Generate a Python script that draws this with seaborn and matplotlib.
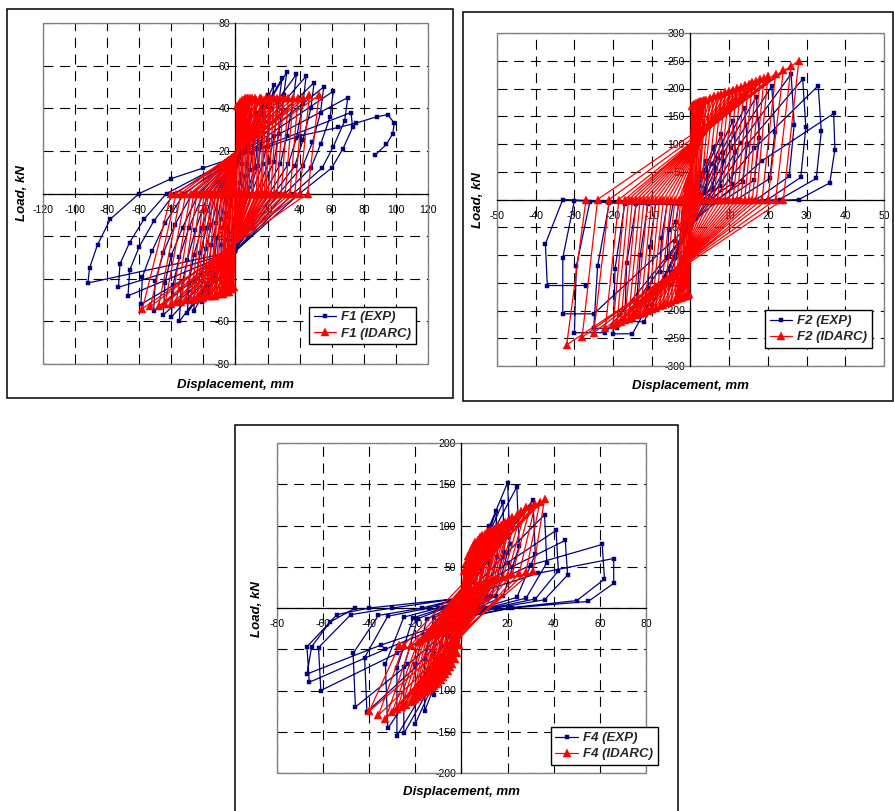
import numpy as np
import pandas as pd
import matplotlib
matplotlib.use("Agg")
import matplotlib.pyplot as plt
import seaborn as sns
from matplotlib.patches import Rectangle
from matplotlib.font_manager import FontProperties

# ---------------- DATA ----------------
# Panel F1 - experiment (cycle key points)
f1_exp_pinch_p = [10, 12, 13, 14, 15, 15, 16, 16, 16, 17, 17, 17, 17, 17, 17]
f1_exp_pos_d = [5, 9, 13, 17, 20, 24, 29, 32, 38, 44, 49, 55, 61, 70, 72]
f1_exp_pos_f = [20, 30, 38, 43, 46, 51, 54, 57, 56, 55, 52, 50, 48, 45, 38]
f1_exp_k1p_d = [4, 8, 12, 15, 18, 22, 27, 30, 36, 42, 47, 53, 59, 68, 73]
f1_exp_k1p_f = [14, 22, 29, 33, 36, 40, 43, 46, 44, 42, 40, 38, 36, 34, 31]
f1_exp_kmp_d = [3.5, 7, 10.5, 13.5, 16, 20, 24, 27, 32, 38, 42, 48, 53, 61, 67]
f1_exp_kmp_f = [9, 14, 19, 21, 23, 25, 27, 28, 27, 26, 25, 24, 23, 22, 21]
f1_exp_k2p_d = [3, 6, 9, 12, 14, 17, 21, 24, 28, 33, 37, 42, 47, 54, 60]
f1_exp_k2p_f = [5, 8, 11, 12, 13, 14, 15, 15, 14, 14, 13, 13, 12, 12, 12]
f1_exp_zero_p = [1, 3, 5, 7, 8, 10, 13, 15, 18, 21, 24, 27, 31, 36, 40]
f1_exp_pinch_n = [-12, -16, -19, -21, -22, -23, -24, -25, -25, -26, -26, -26, -27, -27, -27]
f1_exp_neg_d = [-5, -9, -13, -17, -21, -26, -30, -35, -40, -45, -51, -59, -67, -73, -92]
f1_exp_neg_f = [-22, -33, -41, -47, -51, -55, -56, -60, -58, -57, -55, -52, -48, -44, -42]
f1_exp_k1n_d = [-5, -9, -13, -17, -21, -25, -29, -34, -39, -44, -50, -58, -66, -72, -91]
f1_exp_k1n_f = [-16, -24, -30, -35, -38, -41, -42, -45, -43, -42, -41, -39, -36, -33, -35]
f1_exp_kmn_d = [-4, -8, -11.5, -15, -18.5, -22, -26, -30, -35, -40, -45, -52, -60, -66, -86]
f1_exp_kmn_f = [-11, -16, -21, -24, -26, -28, -29, -31, -30, -29, -28, -27, -25, -23, -24]
f1_exp_k2n_d = [-3, -6, -9, -12, -15, -18, -21, -25, -29, -33, -38, -44, -51, -57, -78]
f1_exp_k2n_f = [-6, -9, -12, -14, -15, -16, -16, -17, -16, -16, -15, -14, -13, -12, -12]
f1_exp_zero_n = [-2, -4, -6, -8, -10, -12, -14, -17, -20, -23, -27, -32, -38, -43, -60]
f1_exp_tail_d = [-40, -20, 0, 20, 40, 64, 75, 88, 95, 99, 98, 94, 87]
f1_exp_tail_f = [7, 12, 17, 22, 27, 31, 33, 36, 37, 33, 28, 23, 18]

# Panel F1 - IDARC
f1_idarc_pos_d = [1, 2, 3, 4, 5, 6, 7, 8, 9, 10, 12, 13, 15, 16, 18, 19, 21, 22, 24, 26,
                  28, 30, 33, 36, 39, 42, 46, 52]
f1_idarc_pos_f = [41, 42, 43, 44, 44, 45, 45, 45, 45, 45, 45, 44, 45, 45, 44, 45, 45, 45, 45, 45,
                  45, 45, 45, 45, 45, 45, 46, 46]
f1_idarc_zero_p = [0.5, 1.5, 2.5, 3.5, 4, 5, 6, 7, 7.5, 8.5, 10, 11, 13, 14, 15.5, 16.5, 18, 19,
                   20.5, 22, 24, 26, 28.5, 31, 34, 37, 40, 45]
f1_idarc_neg_d = [-1, -2, -3, -4, -5, -6, -7, -8, -9, -10, -12, -13, -15, -16, -18, -20, -22, -24,
                  -26, -28, -31, -34, -37, -40, -44, -48, -53, -58]
f1_idarc_neg_f = [-44, -45, -45, -46, -46, -46, -46, -47, -47, -47, -47, -48, -48, -48, -48, -49,
                  -49, -49, -50, -50, -50, -51, -51, -52, -52, -53, -53, -54]
f1_idarc_zero_n = [-0.5, -1.5, -2, -3, -3.5, -4, -5, -5.5, -6, -7, -8, -9, -10.5, -11, -12.5,
                   -14, -15, -17, -18, -19.5, -21.5, -24, -26, -28, -31, -34, -37, -40]

# Panel F2 - experiment
f2_exp_pinch_p = [-10, -15, -20, -25, -30, -35, -40, -45, -50, -50, -50, -45]
f2_exp_kl_d = [1, 2, 3, 4, 5.5, 7, 8.5, 10.5, 13, 14.5, 16.5, 18.5]
f2_exp_kl_f = [18, 32, 43, 53, 64, 74, 83, 92, 102, 98, 92, 70]
f2_exp_pos_d = [2, 4, 6, 8, 11, 14, 17, 21, 26, 29, 33, 37]
f2_exp_pos_f = [40, 70, 95, 118, 142, 165, 185, 204, 226, 217, 205, 155]
f2_exp_k1p_d = [2.3, 4.4, 6.5, 8.6, 11.6, 14.7, 17.8, 21.8, 26.8, 29.8, 33.8, 37.3]
f2_exp_k1p_f = [25, 42, 57, 70, 85, 100, 110, 122, 135, 130, 123, 90]
f2_exp_k2p_d = [2, 3.8, 5.7, 7.6, 10.6, 13.5, 16.5, 20.5, 25.5, 28.5, 32.5, 36]
f2_exp_k2p_f = [10, 15, 20, 24, 28, 32, 35, 38, 42, 40, 38, 30]
f2_exp_zero_p = [0.5, 1, 2, 3, 5, 7, 9, 12, 17, 20, 23, 28]
f2_exp_pinch_n = [-3, -5, -6, -7, -8, -8, -9, -9, -10, -10, -10, -10]
f2_exp_top_d = [-1.5, -3, -4.5, -6, -9, -11, -14, -17, -21, -26, -30, -33]
f2_exp_top_f = [-5, -6, -6, -7, -7, -8, -8, -8, -6, -4, -2, 0]
f2_exp_mid_d = [-2, -3.8, -5.6, -7.5, -10.5, -13, -16.5, -19.5, -24, -29.5, -33, -37.5]
f2_exp_mid_f = [-25, -40, -55, -70, -85, -100, -115, -125, -120, -120, -105, -80]
f2_exp_neg_d = [-2, -4, -6, -8, -11, -14, -17, -20, -25, -30, -33, -37]
f2_exp_neg_f = [-45, -75, -105, -130, -160, -190, -220, -242, -232, -240, -206, -155]
f2_exp_bot_d = [-1, -2.5, -4, -5, -8, -10, -12, -15, -19, -22, -25, -27]

# Panel F2 - IDARC
f2_idarc_pos_d = [0.3, 0.6, 1, 1.5, 2, 2.5, 3, 3.5, 4, 5, 6, 7, 8, 9, 10, 11, 12, 13, 14, 15,
                  16, 17, 18, 19, 20, 22, 24, 26, 28]
f2_idarc_pos_f = [168, 170, 172, 174, 176, 177, 178, 179, 180, 183, 186, 188, 190, 193, 196, 198,
                  201, 203, 206, 209, 211, 214, 217, 219, 222, 227, 233, 240, 250]
f2_idarc_zero_p = [0, 0.2, 0.4, 0.7, 1, 1.2, 1.5, 1.8, 2, 2.5, 3, 4, 5, 6, 7, 8, 9, 10, 11, 12,
                   13, 14, 15, 16, 17, 18.5, 20, 22, 24]
f2_idarc_neg_d = [-0.3, -0.6, -1, -1.5, -2, -2.5, -3, -3.5, -4, -5, -6, -7, -8, -9, -10, -11,
                  -12, -13, -14, -15, -16, -17, -18, -19, -20, -22, -25, -28, -32]
f2_idarc_neg_f = [-171, -172, -173, -174, -176, -177, -178, -180, -181, -184, -187, -190, -192,
                  -195, -198, -201, -204, -206, -209, -212, -215, -218, -220, -223, -226, -232,
                  -240, -248, -262]
f2_idarc_zero_n = [0, -0.2, -0.4, -0.7, -1, -1.2, -1.5, -1.8, -2, -2.5, -3, -4, -5, -6, -7, -8,
                   -9, -10, -11, -12, -13, -14, -15, -16, -17, -18.5, -21, -24, -27]

# Panel F4 - experiment
f4_exp_pinch_p = [3, 5, 6, 8, 8, 9, 10, 10, 10, 10, 12, 12, 12, 12]
f4_exp_klp_d = [1.5, 3, 4.5, 6, 8, 9, 10, 12, 15, 18, 20, 22, 30, 33]
f4_exp_klp_f = [14, 25, 38, 50, 62, 72, 85, 83, 72, 62, 55, 50, 52, 42]
f4_exp_pos_d = [3, 6, 9, 12, 15, 18, 20, 24, 31, 36, 41, 45, 61, 66]
f4_exp_pos_f = [30, 55, 80, 100, 117, 128, 152, 147, 131, 113, 94, 82, 77, 60]
f4_exp_k1p_d = [3, 6, 9, 12, 15.5, 18.5, 21, 25, 32, 37, 42, 46, 62, 66]
f4_exp_k1p_f = [18, 32, 45, 55, 62, 68, 78, 75, 65, 55, 45, 40, 35, 30]
f4_exp_k2p_d = [2, 4, 6.5, 9, 11, 13, 15, 18, 24, 28, 32, 36, 50, 55]
f4_exp_k2p_f = [5, 8, 10, 12, 13, 14, 15, 14, 13, 12, 11, 10, 9, 8]
f4_exp_zero_p = [0.5, 1, 2, 3, 4, 5, 6, 7, 9, 11, 13, 15, 20, 22]
f4_exp_pinch_n = [-3, -5, -7, -8, -10, -10, -12, -12, -12, -12, -12, -12, -12, -12]
f4_exp_kln_d = [-1.5, -3, -4.5, -6, -8, -10, -12, -14, -17, -20, -23, -28, -33, -35]
f4_exp_kln_f = [-15, -28, -42, -55, -68, -78, -88, -90, -85, -72, -68, -55, -50, -45]
f4_exp_neg_d = [-3, -6, -9, -12, -16, -20, -25, -28, -32, -41, -46, -61, -66, -67]
f4_exp_neg_f = [-35, -60, -85, -105, -125, -140, -152, -155, -146, -126, -120, -100, -90, -80]
f4_exp_k1n_d = [-3, -6, -9, -12, -16, -20, -25, -28, -33, -42, -47, -62, -67, -65]
f4_exp_k1n_f = [-20, -33, -45, -55, -62, -68, -72, -73, -68, -60, -55, -48, -47, -47]
f4_exp_k2n_d = [-2, -4, -6.5, -9, -12, -15, -19, -21, -25, -32, -36, -48, -54, -57]
f4_exp_k2n_f = [-5, -8, -10, -12, -12, -13, -13, -12, -11, -10, -9, -8, -8, -17]
f4_exp_zero_n = [-0.5, -1, -2, -3, -4, -5, -7, -8, -10, -14, -17, -30, -40, -46]

# Panel F4 - IDARC
f4_idarc_pos_d = [1, 2, 3, 4, 5, 6, 7, 8, 9, 10, 11, 12, 13, 14, 15, 16, 17, 18, 19, 20,
                  21, 22, 24, 26, 28, 30, 32, 34, 36]
f4_idarc_pos_f = [45, 55, 63, 70, 75, 80, 83, 86, 88, 90, 92, 93, 95, 96, 98, 99, 101, 102,
                  104, 105, 107, 110, 113, 117, 122, 124, 126, 129, 132]
f4_idarc_un_p_d = [0.5, 1, 1.5, 2, 2.5, 3, 3.5, 4, 5, 5.5, 6, 7, 7.5, 8, 9, 10, 10.5, 11, 12,
                   13, 14, 15, 16, 18, 20, 22, 25, 28, 31]
f4_idarc_un_p_f = [8, 10, 12, 14, 16, 18, 19, 20, 22, 23, 24, 25, 26, 27, 28, 29, 30, 31, 32,
                   33, 34, 35, 36, 38, 40, 41, 42, 44, 45]
f4_idarc_neg_d = [-1, -2, -3, -4, -5, -6, -7, -8, -9, -10, -11, -12, -13, -14, -15, -16, -17,
                  -18, -19, -20, -21, -22, -24, -26, -28, -30, -33, -36, -40]
f4_idarc_neg_f = [-45, -55, -62, -68, -72, -76, -80, -84, -87, -90, -92, -94, -96, -98, -100,
                  -102, -104, -106, -108, -110, -112, -114, -117, -120, -123, -126, -135, -130,
                  -125]
f4_idarc_un_n_d = [-0.5, -1, -1.5, -2, -2.5, -3, -3.5, -4, -5, -5.5, -6, -7, -7.5, -8, -9, -10,
                   -10.5, -11, -12, -13, -14, -15, -16, -17, -18, -19, -22, -25, -27]
f4_idarc_un_n_f = [-8, -10, -12, -14, -16, -18, -19, -20, -22, -23, -24, -25, -26, -27, -28,
                   -29, -30, -31, -32, -33, -34, -35, -36, -38, -40, -41, -45, -45, -45]

# Ticks
f1_xticks = [-120, -100, -80, -60, -40, -20, 0, 20, 40, 60, 80, 100, 120]
f1_yticks = [-80, -60, -40, -20, 0, 20, 40, 60, 80]
f2_xticks = [-50, -40, -30, -20, -10, 0, 10, 20, 30, 40, 50]
f2_yticks = [-300, -250, -200, -150, -100, -50, 0, 50, 100, 150, 200, 250, 300]
f4_xticks = [-80, -60, -40, -20, 0, 20, 40, 60, 80]
f4_yticks = [-200, -150, -100, -50, 0, 50, 100, 150, 200]

labels = {"f1": ("F1 (EXP)", "F1 (IDARC)"),
          "f2": ("F2 (EXP)", "F2 (IDARC)"),
          "f4": ("F4 (EXP)", "F4 (IDARC)")}


# ---------------- path builder ----------------
def build(segments, n, start=None, tail=None):
    d, f = [], []
    if start is not None:
        d.append(start[0]); f.append(start[1])
    for i in range(n):
        for sd, sf in segments:
            d.append(sd[i] if isinstance(sd, list) else sd)
            f.append(sf[i] if isinstance(sf, list) else sf)
    if tail is not None:
        d.extend(tail[0]); f.extend(tail[1])
    return pd.DataFrame({"disp": d, "load": f})


f1_exp = build([(0, f1_exp_pinch_p), (f1_exp_pos_d, f1_exp_pos_f), (f1_exp_k1p_d, f1_exp_k1p_f),
                (f1_exp_kmp_d, f1_exp_kmp_f), (f1_exp_k2p_d, f1_exp_k2p_f), (f1_exp_zero_p, 0),
                (0, f1_exp_pinch_n), (f1_exp_neg_d, f1_exp_neg_f), (f1_exp_k1n_d, f1_exp_k1n_f),
                (f1_exp_kmn_d, f1_exp_kmn_f), (f1_exp_k2n_d, f1_exp_k2n_f), (f1_exp_zero_n, 0)],
               len(f1_exp_pos_d), start=(0, 0), tail=(f1_exp_tail_d, f1_exp_tail_f))
f1_idarc = build([(f1_idarc_pos_d, f1_idarc_pos_f), (f1_idarc_zero_p, 0),
                  (f1_idarc_neg_d, f1_idarc_neg_f), (f1_idarc_zero_n, 0)],
                 len(f1_idarc_pos_d), start=(0, 0))

f2_exp = build([(0, f2_exp_pinch_p), (f2_exp_kl_d, f2_exp_kl_f), (f2_exp_pos_d, f2_exp_pos_f),
                (f2_exp_k1p_d, f2_exp_k1p_f), (f2_exp_k2p_d, f2_exp_k2p_f), (f2_exp_zero_p, 0),
                (0, f2_exp_pinch_n), (f2_exp_top_d, f2_exp_top_f), (f2_exp_mid_d, f2_exp_mid_f),
                (f2_exp_neg_d, f2_exp_neg_f), (f2_exp_bot_d, f2_exp_neg_f)],
               len(f2_exp_pos_d), start=(0, 0))
f2_idarc = build([(f2_idarc_pos_d, f2_idarc_pos_f), (f2_idarc_zero_p, 0),
                  (f2_idarc_neg_d, f2_idarc_neg_f), (f2_idarc_zero_n, 0)],
                 len(f2_idarc_pos_d), start=(0, 0))

f4_exp = build([(0, f4_exp_pinch_p), (f4_exp_klp_d, f4_exp_klp_f), (f4_exp_pos_d, f4_exp_pos_f),
                (f4_exp_k1p_d, f4_exp_k1p_f), (f4_exp_k2p_d, f4_exp_k2p_f), (f4_exp_zero_p, 0),
                (0, f4_exp_pinch_n), (f4_exp_kln_d, f4_exp_kln_f), (f4_exp_neg_d, f4_exp_neg_f),
                (f4_exp_k1n_d, f4_exp_k1n_f), (f4_exp_k2n_d, f4_exp_k2n_f), (f4_exp_zero_n, 0)],
               len(f4_exp_pos_d), start=(0, 0))
f4_idarc = build([(f4_idarc_pos_d, f4_idarc_pos_f), (f4_idarc_un_p_d, f4_idarc_un_p_f),
                  (f4_idarc_neg_d, f4_idarc_neg_f), (f4_idarc_un_n_d, f4_idarc_un_n_f)],
                 len(f4_idarc_pos_d), start=(0, 0))

# ---------------- figure ----------------
sns.set_theme(style="white")
plt.rcParams["font.family"] = ["Liberation Sans", "DejaVu Sans"]

W, H = 895, 811
fig = plt.figure(figsize=(W / 100, H / 100), dpi=100)
fig.patch.set_facecolor("white")


def fx(px):
    return px / W


def fy(py):
    return 1 - py / H


# outer frames
for (l, t, r, b) in [(7, 9, 453, 398), (463, 12, 893.5, 401), (235, 425, 678, 830)]:
    fig.add_artist(Rectangle((fx(l), fy(b)), fx(r) - fx(l), fy(t) - fy(b),
                             transform=fig.transFigure, fill=False,
                             edgecolor="black", lw=1.1))

NAVY = "#000080"
RED = "#ff0000"
lab_font = dict(fontsize=9.5, fontweight="bold", fontstyle="italic", color="black")

panels = [
    dict(key="f1", rect=(43, 23, 428, 364), exp=f1_exp, idarc=f1_idarc,
         xt=f1_xticks, yt=f1_yticks, leg=(0.969, 0.058),
         ylab=(22, 193), xlab=(235, 385)),
    dict(key="f2", rect=(497, 33, 884, 366), exp=f2_exp, idarc=f2_idarc,
         xt=f2_xticks, yt=f2_yticks, leg=(0.969, 0.054),
         ylab=(478, 200), xlab=(690, 386)),
    dict(key="f4", rect=(277, 443, 646, 773), exp=f4_exp, idarc=f4_idarc,
         xt=f4_xticks, yt=f4_yticks, leg=(1.032, 0.024),
         ylab=(257, 609), xlab=(461, 792)),
]

for p in panels:
    l, t, r, b = p["rect"]
    ax = fig.add_axes([fx(l), fy(b), fx(r) - fx(l), fy(t) - fy(b)])
    ax.set_facecolor("white")
    lab_exp, lab_idarc = labels[p["key"]]

    sns.lineplot(data=p["exp"], x="disp", y="load", sort=False, estimator=None, ax=ax,
                 color=NAVY, lw=0.9, marker="s", markersize=2.8,
                 markeredgecolor=NAVY, markeredgewidth=0.3, label=lab_exp, zorder=3)
    sns.lineplot(data=p["idarc"], x="disp", y="load", sort=False, estimator=None, ax=ax,
                 color=RED, lw=0.9, marker="^", markersize=5.2,
                 markeredgecolor=RED, markeredgewidth=0.3, label=lab_idarc, zorder=4)

    xt, yt = p["xt"], p["yt"]
    ax.set_xlim(xt[0], xt[-1])
    ax.set_ylim(yt[0], yt[-1])
    ax.set_xticks(xt)
    ax.set_yticks(yt)
    ax.set_xticklabels([str(v) for v in xt])
    ax.set_yticklabels([str(v) for v in yt])
    ax.set_xlabel("")
    ax.set_ylabel("")

    ax.grid(True, color="black", linestyle=(0, (9, 6)), linewidth=0.8)
    ax.set_axisbelow(True)

    for s in ["top", "right"]:
        ax.spines[s].set_visible(False)
    ax.spines["left"].set_position(("data", 0))
    ax.spines["bottom"].set_position(("data", 0))
    for s in ["left", "bottom"]:
        ax.spines[s].set_color("black")
        ax.spines[s].set_linewidth(0.9)
        ax.spines[s].set_zorder(2)
    ax.add_patch(Rectangle((0, 0), 1, 1, transform=ax.transAxes, fill=False,
                           edgecolor="#808080", lw=1.0, clip_on=False, zorder=2))

    ax.tick_params(axis="both", direction="inout", length=5, width=0.8,
                   color="black", labelsize=7.5, labelcolor="black")
    ax.tick_params(axis="x", pad=5.5)
    ax.tick_params(axis="y", pad=1.5)

    leg = ax.legend(loc="lower right", bbox_to_anchor=p["leg"], borderaxespad=0,
                    frameon=True, fancybox=False, framealpha=1, edgecolor="black",
                    prop=FontProperties(family=["Liberation Sans", "DejaVu Sans"],
                                        weight="bold", style="italic", size=9.5),
                    handlelength=1.7, handletextpad=0.4, borderpad=0.35,
                    labelspacing=0.3)
    leg.get_frame().set_linewidth(1.0)
    leg.set_zorder(10)

    fig.text(fx(p["ylab"][0]), fy(p["ylab"][1]), "Load, kN", rotation=90,
             ha="center", va="center", **lab_font)
    fig.text(fx(p["xlab"][0]), fy(p["xlab"][1]), "Displacement, mm",
             ha="center", va="center", **lab_font)

fig.savefig("out.png", dpi=100, facecolor="white")
